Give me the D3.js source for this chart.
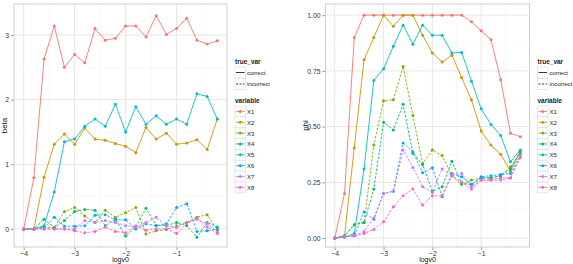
<!DOCTYPE html>
<html><head><meta charset="utf-8">
<script src="https://cdn.jsdelivr.net/npm/d3@7"></script>
<style>body{margin:0;background:#fff}svg{font-family:"Liberation Sans",Arial,sans-serif}</style>
</head><body><svg id="c" width="573" height="264"></svg>
<script>
const logv0 = [-4,-3.8,-3.6,-3.4,-3.2,-3.0,-2.8,-2.6,-2.4,-2.2,-2.0,-1.8,-1.6,-1.4,-1.2,-1.0,-0.8,-0.6,-0.4,-0.2];
const variables = ["X1","X2","X3","X4","X5","X6","X7","X8"];
const trueVar = ["correct","correct","incorrect","incorrect","correct","incorrect","incorrect","incorrect"];
const colors = ["#F8766D","#CD9600","#7CAE00","#00BE67","#00BFC4","#00A9FF","#C77CFF","#FF61CC"];
const xTicks = [-4,-3,-2,-1];
const betaTicks = [0,1,2,3];
const phiTicks = [0,0.25,0.5,0.75,1];

const beta_X1 = [0,0.79,2.63,3.14,2.50,2.70,2.57,3.10,2.92,2.95,3.14,3.14,2.97,3.30,3.01,3.10,3.26,2.92,2.86,2.91];
const beta_X2 = [0,0,0.80,1.31,1.47,1.31,1.56,1.39,1.37,1.32,1.28,1.18,1.57,1.39,1.48,1.31,1.33,1.38,1.23,1.70];
const beta_X3 = [0,0,0.03,0.02,0.27,0.33,0.20,0.10,0.29,0.18,0.25,0.33,-0.08,-0.03,-0.01,0.05,0.10,0.18,0.22,-0.02];
const beta_X4 = [0,0,0.15,0.02,0.13,0.27,0.30,0.29,0.05,0.15,-0.11,0.03,0.32,0.05,0.05,0.10,0.05,-0.13,0.10,0.03];
const beta_X5 = [0,0,0.05,0.57,1.35,1.39,1.59,1.70,1.59,1.93,1.50,1.89,1.62,1.75,1.62,1.70,1.62,2.09,2.05,1.70];
const beta_X6 = [0,0,0.02,0.18,0.04,0.04,0.05,0.21,0.22,0.14,0.14,0.00,0.08,0.05,0.08,0.33,0.39,-0.04,-0.03,0.00];
const beta_X7 = [0,0,0,0,0,0,0.13,0.10,0.13,0.10,0.05,0.03,0.10,0.18,0.05,0.02,0.10,0.15,0.08,-0.05];
const beta_X8 = [0,0,0,0,0,-0.03,-0.06,-0.04,0.03,-0.04,-0.06,0.05,-0.02,0,0,-0.07,0.08,0.16,0.03,-0.07];

const phi_X1 = [0,0.20,0.90,1,1,1,1,1,1,1,1,1,1,1,0.97,0.93,0.89,0.71,0.47,0.455];
const phi_X2 = [0,0.01,0.405,0.80,0.90,1,0.95,1,1,0.91,0.83,0.79,0.82,0.72,0.62,0.48,0.417,0.376,0.30,0.387];
const phi_X3 = [0,0.01,0.06,0.07,0.417,0.616,0.62,0.77,0.55,0.335,0.395,0.37,0.28,0.24,0.26,0.27,0.27,0.28,0.32,0.38];
const phi_X4 = [0,0.01,0.06,0.07,0.22,0.52,0.485,0.60,0.38,0.33,0.21,0.23,0.345,0.245,0.24,0.27,0.27,0.28,0.31,0.39];
const phi_X5 = [0,0.005,0.02,0.31,0.707,0.76,0.86,0.955,0.87,0.955,0.91,0.91,0.83,0.833,0.704,0.58,0.51,0.46,0.342,0.395];
const phi_X6 = [0,0.005,0.01,0.117,0.084,0.20,0.21,0.427,0.387,0.293,0.315,0.185,0.29,0.275,0.24,0.275,0.28,0.285,0.29,0.37];
const phi_X7 = [0,0.005,0.01,0.03,0.09,0.20,0.21,0.395,0.317,0.23,0.205,0.31,0.28,0.29,0.23,0.26,0.26,0.26,0.27,0.37];
const phi_X8 = [0,0.005,0.01,0.02,0.039,0.073,0.14,0.19,0.22,0.148,0.19,0.19,0.28,0.25,0.22,0.26,0.26,0.27,0.27,0.36];

const betaSeries = [beta_X1,beta_X2,beta_X3,beta_X4,beta_X5,beta_X6,beta_X7,beta_X8];
const phiSeries = [phi_X1,phi_X2,phi_X3,phi_X4,phi_X5,phi_X6,phi_X7,phi_X8];

const svg = d3.select("#c");

function panel(cfg){
  const x = d3.scaleLinear().domain([-4.19,-0.01]).range([cfg.x0,cfg.x1]);
  const y = d3.scaleLinear().domain(cfg.ydom).range([cfg.y1,cfg.y0]);
  const g = svg.append("g");
  g.append("rect").attr("x",cfg.x0).attr("y",cfg.y0).attr("width",cfg.x1-cfg.x0).attr("height",cfg.y1-cfg.y0).attr("fill","#fff");
  const xm = [-3.5,-2.5,-1.5,-0.5];
  g.selectAll(".xm").data(xm).enter().append("line").attr("x1",d=>x(d)).attr("x2",d=>x(d)).attr("y1",cfg.y0).attr("y2",cfg.y1).attr("stroke","#f3f3f3").attr("stroke-width",0.6);
  g.selectAll(".ym").data(cfg.minor).enter().append("line").attr("y1",d=>y(d)).attr("y2",d=>y(d)).attr("x1",cfg.x0).attr("x2",cfg.x1).attr("stroke","#f3f3f3").attr("stroke-width",0.6);
  g.selectAll(".xg").data(xTicks).enter().append("line").attr("x1",d=>x(d)).attr("x2",d=>x(d)).attr("y1",cfg.y0).attr("y2",cfg.y1).attr("stroke","#e6e6e6").attr("stroke-width",1);
  g.selectAll(".yg").data(cfg.ticks).enter().append("line").attr("y1",d=>y(d)).attr("y2",d=>y(d)).attr("x1",cfg.x0).attr("x2",cfg.x1).attr("stroke","#e6e6e6").attr("stroke-width",1);
  const xa = g.append("g").attr("transform",`translate(0,${cfg.y1})`).call(d3.axisBottom(x).tickValues(xTicks).tickFormat(d3.format("d")).tickSize(3).tickPadding(1));
  const ya = g.append("g").attr("transform",`translate(${cfg.x0},0)`).call(d3.axisLeft(y).tickValues(cfg.ticks).tickFormat(cfg.fmt).tickSize(3).tickPadding(2));
  [xa,ya].forEach(a=>{a.select(".domain").remove();a.selectAll("line").attr("stroke","#999");a.selectAll("text").attr("fill","#333").attr("font-size",6.8).attr("font-family","Liberation Sans, Arial, sans-serif");});
  const line = d3.line().x((d,i)=>x(logv0[i])).y(d=>y(d));
  variables.forEach((v,k)=>{
    const vals = cfg.series[k];
    g.append("path").attr("d",line(vals)).attr("fill","none").attr("stroke",colors[k]).attr("stroke-width",0.9)
      .attr("stroke-dasharray",trueVar[k]==="incorrect"?"2.5,1.5":null);
    g.selectAll(".p"+k).data(vals).enter().append("circle").attr("cx",(d,i)=>x(logv0[i])).attr("cy",d=>y(d)).attr("r",1.5).attr("fill",colors[k]);
  });
  g.append("rect").attr("x",cfg.x0).attr("y",cfg.y0).attr("width",cfg.x1-cfg.x0).attr("height",cfg.y1-cfg.y0).attr("fill","none").attr("stroke","#cfcfcf").attr("stroke-width",1);
  g.append("text").attr("x",(x(-4)+x(-0.2))/2).attr("y",261.8).attr("text-anchor","middle").attr("font-size",7).attr("fill","#111").text("logv0");
  g.append("text").attr("transform",`translate(${cfg.ylabX},${(cfg.y0+cfg.y1)/2}) rotate(-90)`).attr("text-anchor","middle").attr("font-size",8).attr("fill","#111").text(cfg.ylab);
  const lx = cfg.x1+8;
  const lg = svg.append("g").attr("font-size",6).attr("fill","#222");
  lg.append("text").attr("x",lx).attr("y",64).attr("font-weight","bold").attr("font-size",6.5).text("true_var");
  ["correct","incorrect"].forEach((t,i)=>{
    const yy = 67+i*11.5;
    lg.append("rect").attr("x",lx).attr("y",yy).attr("width",10.5).attr("height",11).attr("fill","#fff").attr("stroke","#e0e0e0").attr("stroke-width",0.8);
    lg.append("line").attr("x1",lx+1).attr("x2",lx+9.5).attr("y1",yy+5.5).attr("y2",yy+5.5).attr("stroke","#222").attr("stroke-width",0.9).attr("stroke-dasharray",i?"2,1.5":null);
    lg.append("text").attr("x",lx+12).attr("y",yy+7.8).text(t);
  });
  lg.append("text").attr("x",lx).attr("y",102.5).attr("font-weight","bold").attr("font-size",6.5).text("variable");
  variables.forEach((v,i)=>{
    const yy = 106+i*10.85;
    lg.append("rect").attr("x",lx).attr("y",yy).attr("width",10.5).attr("height",10.85).attr("fill","#fff").attr("stroke","#e0e0e0").attr("stroke-width",0.8);
    lg.append("line").attr("x1",lx+1).attr("x2",lx+9.5).attr("y1",yy+5.4).attr("y2",yy+5.4).attr("stroke",colors[i]).attr("stroke-width",0.9);
    lg.append("circle").attr("cx",lx+5.25).attr("cy",yy+5.4).attr("r",1.5).attr("fill",colors[i]);
    lg.append("text").attr("x",lx+12).attr("y",yy+7.8).text(v);
  });
}

panel({x0:14,x1:227,y0:4,y1:247,ydom:[-0.28,3.48],ticks:betaTicks,minor:[0.5,1.5,2.5],fmt:d3.format("d"),series:betaSeries,ylab:"beta",ylabX:6.5});
panel({x0:325.5,x1:529.5,y0:4,y1:247,ydom:[-0.04,1.05],ticks:phiTicks,minor:[0.125,0.375,0.625,0.875],fmt:d3.format(".2f"),series:phiSeries,ylab:"phi",ylabX:307.5});
</script></body></html>
